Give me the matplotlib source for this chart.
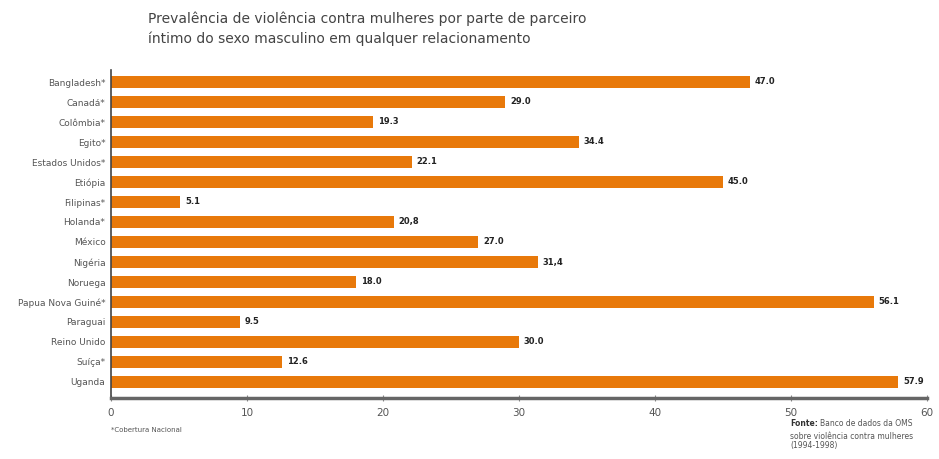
import matplotlib.pyplot as plt

paises = ['Bangladesh*', 'Canadá*', 'Colômbia*', 'Egito*', 'Estados Unidos*', 'Etiópia',
          'Filipinas*', 'Holanda*', 'México', 'Nigéria', 'Noruega', 'Papua Nova Guiné*',
          'Paraguai', 'Reino Unido', 'Suíça*', 'Uganda']
valores = [47.0, 29.0, 19.3, 34.4, 22.1, 45.0, 5.1, 20.8, 27.0, 31.4, 18.0, 56.1, 9.5, 30.0, 12.6, 57.9]
rotulos = ['47.0', '29.0', '19.3', '34.4', '22.1', '45.0', '5.1', '20,8', '27.0', '31,4',
           '18.0', '56.1', '9.5', '30.0', '12.6', '57.9']
x_ticks = [0, 10, 20, 30, 40, 50, 60]

plt.rcParams['font.family'] = 'DejaVu Sans'

fig = plt.figure(figsize=(9.39, 4.59), dpi=100)
ax = fig.add_axes([111/939, 1-398/459, 816/939, 328/459])

laranja = '#E8790A'
pos = list(range(len(paises)))
ax.barh(pos, valores, height=0.62, color=laranja, edgecolor='none')

for p, v, r in zip(pos, valores, rotulos):
    ax.text(v + 0.35, p, r, va='center', ha='left', fontsize=6, fontweight='bold', color='#222222')

ax.set_ylim(15.8, -0.6)
ax.set_xlim(0, 60)
ax.set_yticks(pos)
ax.set_yticklabels(paises, fontsize=6.5, color='#555555')
ax.set_xticks(x_ticks)
ax.set_xticklabels([str(t) for t in x_ticks], fontsize=7.5, color='#555555')

ax.spines['top'].set_visible(False)
ax.spines['right'].set_visible(False)
ax.spines['left'].set_color('#444444')
ax.spines['left'].set_linewidth(1.2)
ax.spines['bottom'].set_color('#666666')
ax.spines['bottom'].set_linewidth(2.5)
ax.tick_params(axis='y', length=0, pad=4)
ax.tick_params(axis='x', direction='inout', length=5, width=0.8, color='#888888', pad=5)

fig.text(148/939, 1-29/459, 'Prevalência de violência contra mulheres por parte de parceiro\n'
         'íntimo do sexo masculino em qualquer relacionamento',
         fontsize=10, color='#444444', va='center', ha='left', linespacing=1.45)

fig.text(111/939, 1-430/459, '*Cobertura Nacional', fontsize=5, color='#555555', va='center', ha='left')

fig.text(790/939, 1-424/459, 'Fonte:', fontsize=5.5, fontweight='bold', color='#333333', va='center', ha='left')
fig.text(820/939, 1-424/459, 'Banco de dados da OMS', fontsize=5.5, color='#555555', va='center', ha='left')
fig.text(790/939, 1-441/459, 'sobre violência contra mulheres\n(1994-1998)', fontsize=5.5,
         color='#555555', va='center', ha='left', linespacing=1.1)

plt.savefig('out.png', dpi=100)
